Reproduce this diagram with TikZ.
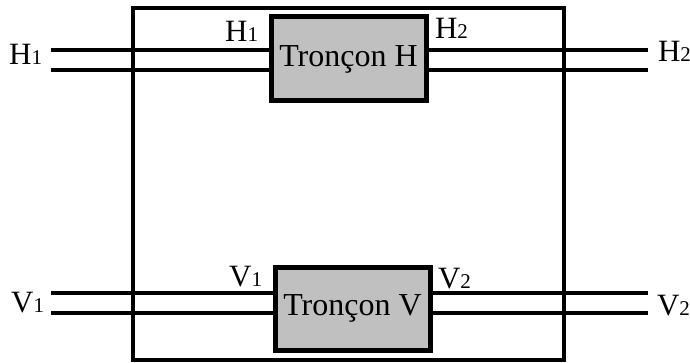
\documentclass[tikz,border=0pt]{standalone}
\usepackage{fontspec}
\setmainfont{Liberation Serif}
\usepackage{xcolor}
\usetikzlibrary{positioning,calc}

\definecolor{boxgray}{RGB}{192,192,192}
\newcommand{\lbl}[2]{#1{\fontsize{21}{25}\selectfont #2}}

\begin{document}
\begin{tikzpicture}[x=1pt,y=-1pt,line width=4pt,
  troncon/.style={draw,fill=boxgray,line width=5pt,minimum width=155pt,minimum height=84pt,inner sep=0pt,
    font=\fontsize{32}{38}\selectfont},
  port/.style={font=\fontsize{31}{37}\selectfont,inner sep=0pt}]
\useasboundingbox (0,0) rectangle (690,363);
% outer frame
\draw (133,8) rectangle (564,360);
% sections
\node[troncon] (secH) at (348.5,59){Tronçon H};
\node[troncon,minimum height=83pt] (secV) at (352.5,308.5){Tronçon V};
% free ends of the lines
\coordinate (h1a) at (51,50);
\coordinate (h1b) at (51,70);
\coordinate (h2a) at (648,50);
\coordinate (h2b) at (648,70);
\coordinate (v1a) at (51,293);
\coordinate (v1b) at (51,313);
\coordinate (v2a) at (648,293);
\coordinate (v2b) at (648,313);
% line pairs
\draw (h1a) -- (h1a -| secH.west);
\draw (h1b) -- (h1b -| secH.west);
\draw (secH.east |- h2a) -- (h2a);
\draw (secH.east |- h2b) -- (h2b);
\draw (v1a) -- (v1a -| secV.west);
\draw (v1b) -- (v1b -| secV.west);
\draw (secV.east |- v2a) -- (v2a);
\draw (secV.east |- v2b) -- (v2b);
% labels
\node[port,anchor=base east] (lh1) at (44,65){\lbl{H}{1}};
\node[port,anchor=base east] (ih1) at (260,42){\lbl{H}{1}};
\node[port,anchor=base west] (ih2) at (433,39){\lbl{H}{2}};
\node[port,anchor=base west] (rh2) at (656,62){\lbl{H}{2}};
\node[port,anchor=base east] (lv1) at (46,312){\lbl{V}{1}};
\node[port,anchor=base east] (iv1) at (264,286){\lbl{V}{1}};
\node[port,anchor=base west] (iv2) at (436,288){\lbl{V}{2}};
\node[port,anchor=base west] (rv2) at (655,315){\lbl{V}{2}};
\end{tikzpicture}
\end{document}
